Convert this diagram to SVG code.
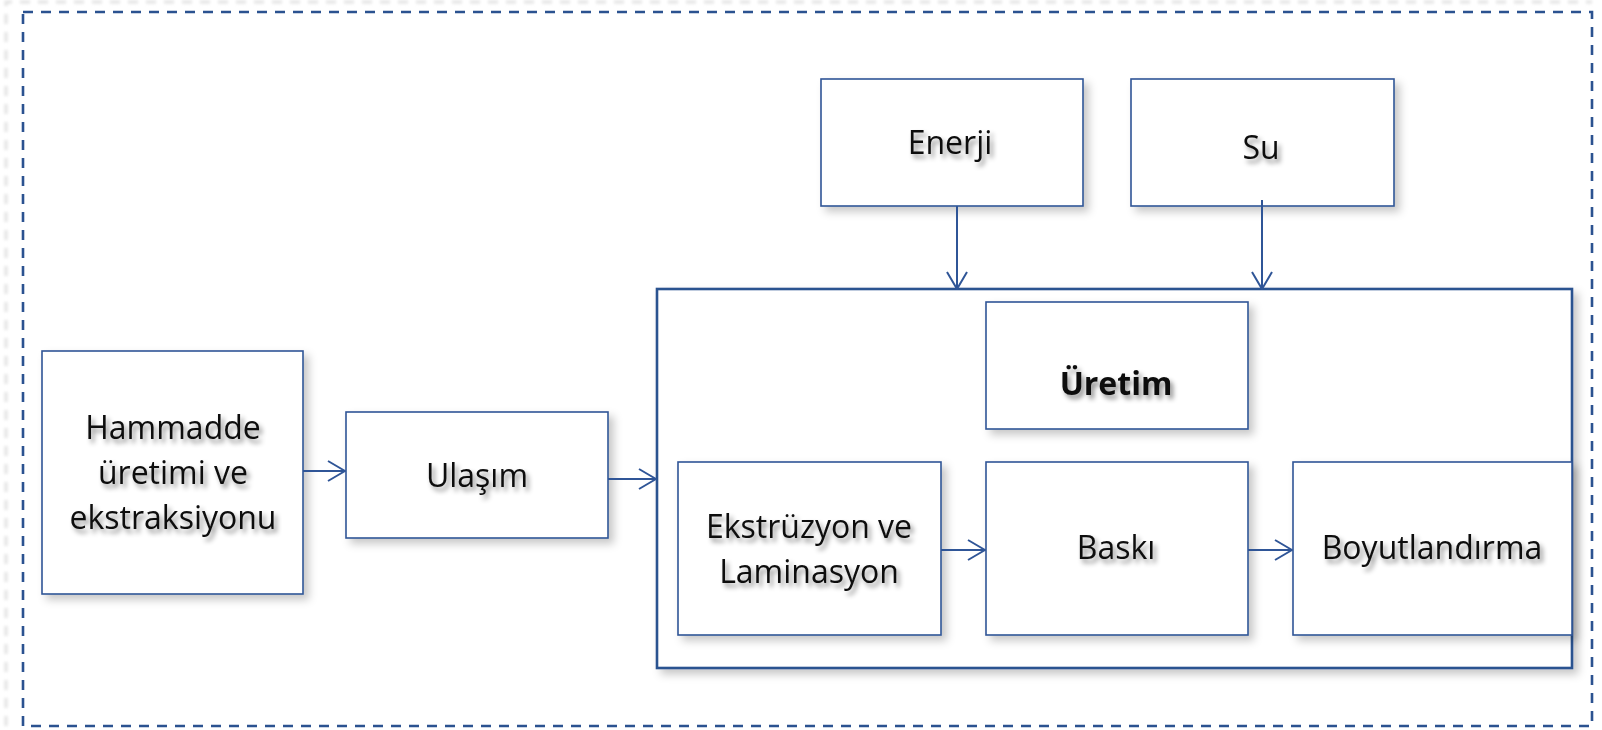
<svg xmlns="http://www.w3.org/2000/svg" width="1602" height="730" viewBox="0 0 1602 730">
  <style>
    .frame { fill: none; stroke: #2B5290; stroke-width: 2.6; stroke-dasharray: 10 8; }
    .frame-shadow { fill: none; stroke: #e2e2e2; stroke-width: 3; stroke-dasharray: 10 8; }
    .box { fill: #ffffff; stroke: #2F5597; stroke-width: 1.6; }
    .container { fill: #ffffff; stroke: #2B5290; stroke-width: 2.6; }
    .link { fill: none; stroke: #2F5597; stroke-width: 2; }
    .label { font-family: "Open Sans", "Lato", sans-serif; font-size: 32px; fill: #0d0d0d; text-anchor: middle; font-variant-ligatures: none; }
    .bold { font-weight: bold; }
  </style>
  <defs>
    <filter id="boxShadow" x="-10%" y="-10%" width="130%" height="130%">
      <feDropShadow dx="5" dy="5" stdDeviation="4" flood-color="#000000" flood-opacity="0.22"/>
    </filter>
    <filter id="textShadow" x="-10%" y="-30%" width="130%" height="180%">
      <feDropShadow dx="3" dy="4" stdDeviation="2.5" flood-color="#000000" flood-opacity="0.45"/>
    </filter>
    <filter id="soft" x="-5%" y="-5%" width="110%" height="110%">
      <feGaussianBlur stdDeviation="1.5"/>
    </filter>
    <marker id="arrow" viewBox="0 0 20 22" refX="19" refY="11" markerWidth="20" markerHeight="22" markerUnits="userSpaceOnUse" orient="auto">
      <path d="M2,1 L19,11 L2,21" fill="none" stroke="#2F5597" stroke-width="2"/>
    </marker>
  </defs>

  <rect width="1602" height="730" fill="#ffffff"/>

  <!-- outer dashed frame with its faint shadow on the left and top -->
  <path class="frame-shadow" d="M6,726 L6,2 L1592,2" filter="url(#soft)"/>
  <rect class="frame" x="23" y="12" width="1569" height="714"/>

  <!-- production container -->
  <g id="uretim-container">
    <rect class="container" x="657" y="289" width="915" height="379" filter="url(#boxShadow)"/>
  </g>

  <g id="hammadde">
    <rect class="box" x="42" y="351" width="261" height="243" filter="url(#boxShadow)"/>
    <g filter="url(#textShadow)">
      <text class="label" x="173" y="439">Hammadde</text>
      <text class="label" x="173" y="484">üretimi ve</text>
      <text class="label" x="173" y="529">ekstraksiyonu</text>
    </g>
  </g>

  <g id="ulasim">
    <rect class="box" x="346" y="412" width="262" height="126" filter="url(#boxShadow)"/>
    <text class="label" x="477" y="487" filter="url(#textShadow)">Ulaşım</text>
  </g>

  <g id="enerji">
    <rect class="box" x="821" y="79" width="262" height="127" filter="url(#boxShadow)"/>
    <text class="label" x="950" y="154" filter="url(#textShadow)">Enerji</text>
  </g>

  <g id="su">
    <rect class="box" x="1131" y="79" width="263" height="127" filter="url(#boxShadow)"/>
    <text class="label" x="1261" y="159" filter="url(#textShadow)">Su</text>
  </g>

  <g id="uretim">
    <rect class="box" x="986" y="302" width="262" height="127" filter="url(#boxShadow)"/>
    <text class="label bold" x="1116" y="395" filter="url(#textShadow)">Üretim</text>
  </g>

  <g id="ekstruzyon">
    <rect class="box" x="678" y="462" width="263" height="173" filter="url(#boxShadow)"/>
    <g filter="url(#textShadow)">
      <text class="label" x="809" y="538">Ekstrüzyon ve</text>
      <text class="label" x="809" y="583">Laminasyon</text>
    </g>
  </g>

  <g id="baski">
    <rect class="box" x="986" y="462" width="262" height="173" filter="url(#boxShadow)"/>
    <text class="label" x="1116" y="559" filter="url(#textShadow)">Baskı</text>
  </g>

  <g id="boyutlandirma">
    <rect class="box" x="1293" y="462" width="279" height="173" filter="url(#boxShadow)"/>
    <text class="label" x="1432" y="559" filter="url(#textShadow)">Boyutlandırma</text>
  </g>

  <!-- connectors -->
  <g id="connectors">
    <line class="link" x1="303" y1="471" x2="345" y2="471" marker-end="url(#arrow)"/>
    <line class="link" x1="608" y1="479" x2="656" y2="479" marker-end="url(#arrow)"/>
    <line class="link" x1="957" y1="206" x2="957" y2="289" marker-end="url(#arrow)"/>
    <line class="link" x1="1262" y1="200" x2="1262" y2="289" marker-end="url(#arrow)"/>
    <line class="link" x1="941" y1="550" x2="985" y2="550" marker-end="url(#arrow)"/>
    <line class="link" x1="1248" y1="550" x2="1292" y2="550" marker-end="url(#arrow)"/>
  </g>
</svg>
